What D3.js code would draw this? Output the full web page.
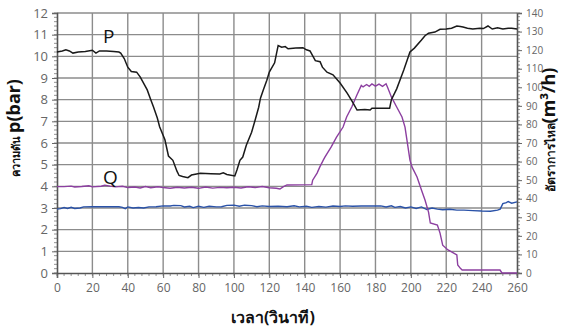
<!DOCTYPE html>
<html>
<head>
<meta charset="utf-8">
<script src="https://cdn.jsdelivr.net/npm/d3@7"></script>
<style>
  body { margin: 0; background: #fff; }
  svg { display: block; }
  .tick text { font-family: "Open Sans", sans-serif; fill: #666; }
</style>
</head>
<body>
<svg width="572" height="331"></svg>
<script>
// time (s) and pressure P (bar)
const pTime = [0, 3, 5, 7, 9, 12, 16, 20, 22, 24, 28, 32, 35, 36, 38, 40, 42, 45, 47, 49, 51, 53, 54.5, 56.7, 58, 61, 63, 65.5, 67.8, 69, 71, 74, 76, 81, 87, 92, 94, 96, 100.5, 101.7, 103.4, 105, 107, 110, 112, 114, 115, 116.6, 118.6, 120, 123, 124, 125, 127, 129, 130.6, 135, 139, 141, 143, 146, 148.7, 150, 152.6, 156, 160, 164, 167, 169.6, 174, 177, 178, 188, 189, 192, 196, 199.5, 202, 206, 208, 210, 213.6, 216.5, 220, 223, 226, 228, 229.5, 232, 235, 239, 241, 243.6, 246, 249, 252, 255, 257, 260];
const pValues = [10.2, 10.25, 10.3, 10.25, 10.15, 10.2, 10.22, 10.28, 10.15, 10.25, 10.25, 10.22, 10.2, 10.15, 9.9, 9.5, 9.3, 9.27, 9.05, 8.75, 8.45, 8.0, 7.67, 7.15, 6.75, 6.15, 5.4, 5.2, 4.7, 4.5, 4.45, 4.4, 4.52, 4.6, 4.58, 4.57, 4.62, 4.55, 4.48, 4.75, 5.2, 5.35, 5.9, 6.5, 7.06, 7.65, 8.07, 8.45, 8.9, 9.27, 9.7, 10.1, 10.5, 10.42, 10.45, 10.35, 10.38, 10.4, 10.3, 10.25, 9.8, 9.75, 9.5, 9.27, 9.15, 8.77, 8.3, 7.9, 7.52, 7.55, 7.52, 7.6, 7.6, 8.0, 8.5, 9.37, 10.2, 10.38, 10.75, 10.95, 11.07, 11.12, 11.25, 11.26, 11.3, 11.4, 11.38, 11.35, 11.3, 11.26, 11.3, 11.28, 11.4, 11.26, 11.32, 11.26, 11.3, 11.3, 11.26];

// time (s) and flow rate Q (m3/h, right axis)
const qTime = [0, 4, 8, 10, 14, 18, 20, 25, 27, 30, 33, 37, 40, 44, 47, 50, 53, 57, 60, 64, 68, 72, 76, 80, 84, 88, 92, 96, 100, 104, 108, 112, 116, 120, 124, 126, 128, 130, 144, 144.5, 147, 148.5, 150.5, 151.5, 155, 158, 161.7, 163.7, 166.6, 169.5, 172, 173, 175, 176.5, 178, 180, 182, 184, 186, 187, 189, 192, 195, 196.7, 197.8, 199.5, 200.7, 203.5, 206, 208, 210, 211, 215, 216.5, 218, 221, 224, 226, 226.5, 228, 229, 250.4, 251.5, 260];
const qValues = [46.5, 46.5, 46.8, 46.3, 46.6, 47.0, 46.4, 46.7, 47.3, 46.8, 46.4, 46.7, 46.0, 46.3, 45.8, 46.6, 45.9, 46.4, 46.0, 45.6, 46.2, 45.8, 46.2, 45.6, 46.3, 45.7, 46.1, 45.9, 46.2, 45.8, 46.4, 46.0, 46.6, 45.9, 45.6, 45.2, 46.5, 47.4, 47.6, 50, 53.8, 57, 60.8, 62.5, 67.9, 73.2, 78.6, 84, 89.4, 95.8, 101, 100.2, 101.5, 100.5, 101.8, 100.6, 101.7, 100.5, 101.9, 99.6, 94.8, 89.4, 84, 78.6, 71.6, 60.8, 57, 51.7, 44.7, 39.3, 32.8, 26.9, 25.8, 21.5, 15, 12.4, 10.8, 9.7, 4.3, 2.5, 1.6, 1.6, 0, 0];

// time (s) and blue series (bar)
const bTime = [0, 2, 4, 6, 8, 10, 13, 15, 20, 25, 30, 35, 37, 38.6, 40, 43, 46, 49, 52, 56, 60, 64, 66, 70, 72, 75, 77, 80, 83, 86, 90, 93, 96, 100, 103, 106, 110, 113, 116, 120, 125, 130, 134, 137, 141, 144, 148, 152, 156, 160, 163, 167, 172, 176, 180, 183, 186, 189, 191, 194, 197, 200, 203, 206, 209, 212, 215, 218, 222, 226, 230, 235, 240, 245, 249, 250.5, 252, 254, 255, 257, 260];
const bValues = [2.95, 2.97, 3.02, 2.98, 3.03, 2.98, 3.0, 3.05, 3.06, 3.06, 3.06, 3.06, 3.03, 2.97, 3.05, 3.0, 3.02, 3.0, 3.05, 3.06, 3.1, 3.09, 3.12, 3.11, 3.05, 3.08, 3.02, 3.08, 3.03, 3.08, 3.05, 3.06, 3.12, 3.13, 3.08, 3.13, 3.11, 3.06, 3.1, 3.07, 3.08, 3.06, 3.1, 3.05, 3.08, 3.03, 3.07, 3.04, 3.09, 3.07, 3.1, 3.08, 3.09, 3.09, 3.09, 3.1, 3.05, 3.1, 3.03, 3.07, 3.0, 3.05, 2.98, 3.05, 2.93, 3.0, 2.95, 2.92, 2.94, 2.9, 2.9, 2.88, 2.86, 2.85, 2.9, 2.95, 3.2, 3.25, 3.3, 3.22, 3.28];

const xTicks = d3.range(0, 261, 20);
const yLeftTicks = d3.range(0, 13, 1);
const yRightTicks = d3.range(0, 141, 10);

const svg = d3.select("svg");
const plotLeft = 57, plotRight = 517, plotTop = 13, plotBottom = 273;

const x = d3.scaleLinear().domain([0, 260]).range([plotLeft, plotRight]);
const yL = d3.scaleLinear().domain([0, 12]).range([plotBottom, plotTop]);
const yR = d3.scaleLinear().domain([0, 140]).range([plotBottom, plotTop]);

// grid
const grid = svg.append("g").attr("stroke", "#8c8c8c").attr("stroke-width", 1.4);
grid.selectAll("line.h").data(yLeftTicks.slice(1)).enter().append("line")
  .attr("x1", plotLeft).attr("x2", plotRight)
  .attr("y1", d => yL(d)).attr("y2", d => yL(d));
grid.selectAll("line.v").data(xTicks.slice(1, -1)).enter().append("line")
  .attr("y1", plotTop).attr("y2", plotBottom)
  .attr("x1", d => x(d)).attr("x2", d => x(d));

// minor ticks
const minor = svg.append("g").attr("stroke", "#777").attr("stroke-width", 0.8);
minor.selectAll("line.mx").data(d3.range(0, 261, 4)).enter().append("line")
  .attr("x1", d => x(d)).attr("x2", d => x(d)).attr("y1", plotBottom).attr("y2", plotBottom + 3);
minor.selectAll("line.ml").data(d3.range(0, 12.01, 0.2)).enter().append("line")
  .attr("x1", plotLeft - 3).attr("x2", plotLeft).attr("y1", d => yL(d)).attr("y2", d => yL(d));
minor.selectAll("line.mr").data(d3.range(0, 141, 2)).enter().append("line")
  .attr("x1", plotRight).attr("x2", plotRight + 3).attr("y1", d => yR(d)).attr("y2", d => yR(d));

// axes
const xAxis = svg.append("g").attr("transform", `translate(0,${plotBottom})`)
  .call(d3.axisBottom(x).tickValues(xTicks).tickSize(5).tickPadding(5));
xAxis.selectAll("text").attr("font-size", 12);

const yAxisL = svg.append("g").attr("transform", `translate(${plotLeft},0)`)
  .call(d3.axisLeft(yL).tickValues(yLeftTicks).tickSize(5).tickPadding(4));
yAxisL.selectAll("text").attr("font-size", 13);

const yAxisR = svg.append("g").attr("transform", `translate(${plotRight},0)`)
  .call(d3.axisRight(yR).tickValues(yRightTicks).tickSize(5).tickPadding(4));
yAxisR.selectAll("text").attr("font-size", 10);

svg.selectAll(".domain").attr("stroke", "#555").attr("stroke-width", 1.6);
svg.selectAll(".tick line").attr("stroke", "#666");

// lines
const lineL = d3.line().x(d => x(d[0])).y(d => yL(d[1]));
const lineR = d3.line().x(d => x(d[0])).y(d => yR(d[1]));

svg.append("path")
  .attr("d", lineL(d3.zip(bTime, bValues)))
  .attr("fill", "none").attr("stroke", "#2a52a8").attr("stroke-width", 1.4);

svg.append("path")
  .attr("d", lineR(d3.zip(qTime, qValues)))
  .attr("fill", "none").attr("stroke", "#8c3fa0").attr("stroke-width", 1.4);

svg.append("path")
  .attr("d", lineL(d3.zip(pTime, pValues)))
  .attr("fill", "none").attr("stroke", "#1a1a1a").attr("stroke-width", 1.5);

// series labels
svg.append("text").attr("x", x(26)).attr("y", yL(10.6))
  .attr("font-family", "Open Sans, sans-serif").attr("font-size", 19).attr("fill", "#111")
  .text("P");
svg.append("text").attr("x", x(26)).attr("y", yL(4.1))
  .attr("font-family", "Open Sans, sans-serif").attr("font-size", 19).attr("fill", "#111")
  .text("Q");

// axis titles
const leftTitle = svg.append("text")
  .attr("transform", `translate(20,128) rotate(-90)`)
  .attr("text-anchor", "middle")
  .attr("font-family", "Noto Sans, sans-serif").attr("font-weight", "bold").attr("fill", "#111");
leftTitle.append("tspan").attr("font-size", 11).text("ความดัน ");
leftTitle.append("tspan").attr("font-size", 18).text("p(bar)");

const rightTitle = svg.append("text")
  .attr("transform", `translate(555,130) rotate(-90)`)
  .attr("text-anchor", "middle")
  .attr("font-family", "Noto Sans, sans-serif").attr("font-weight", "bold").attr("fill", "#111");
rightTitle.append("tspan").attr("font-size", 12).text("อัตราการไหล");
rightTitle.append("tspan").attr("font-size", 18).text("(m³/h)");

svg.append("text")
  .attr("x", 273).attr("y", 323)
  .attr("text-anchor", "middle")
  .attr("font-family", "Noto Sans, sans-serif").attr("font-weight", "bold")
  .attr("font-size", 16).attr("fill", "#111")
  .text("เวลา(วินาที)");
</script>
</body>
</html>
